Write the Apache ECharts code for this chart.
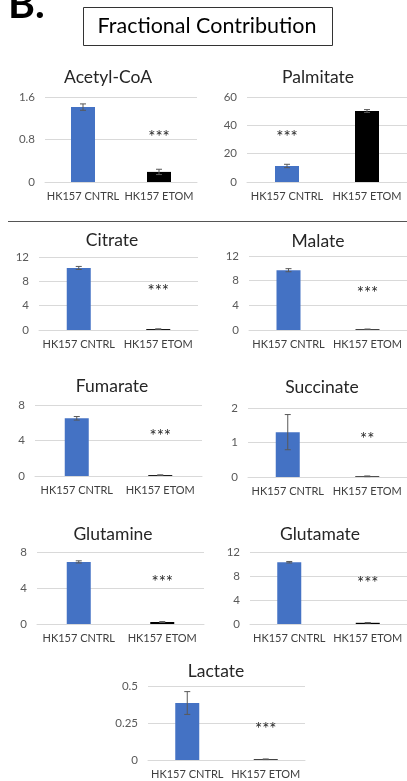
<!DOCTYPE html>
<html><head><meta charset="utf-8">
<script src="https://cdn.jsdelivr.net/npm/echarts@6/dist/echarts.min.js"></script>
<style>html,body{margin:0;padding:0;background:#fff}#c{width:407px;height:781px}</style>
</head><body><div id="c"></div>
<script>
const categories = ['HK157 CNTRL', 'HK157 ETOM'];
const titles = ['Acetyl-CoA','Palmitate','Citrate','Malate','Fumarate','Succinate','Glutamine','Glutamate','Lactate'];
const cntrlValues = [1.41, 11.3, 10.2, 9.7, 6.5, 1.30, 6.9, 10.3, 0.385];
const cntrlErrors = [0.06, 1.2, 0.25, 0.25, 0.2, 0.51, 0.12, 0.12, 0.077];
const etomValues  = [0.19, 50.1, 0.15, 0.12, 0.1, 0.02, 0.22, 0.2, 0.005];
const etomErrors  = [0.05, 1.0, 0.03, 0.03, 0.03, 0.01, 0.05, 0.04, 0.002];
const yMax = [1.6, 60, 12, 12, 8, 2, 8, 12, 0.5];
const yInterval = [0.8, 20, 4, 4, 4, 1, 4, 4, 0.25];
const sigText = ['***','***','***','***','***','**','***','***','***'];
const sigCategory = [1, 0, 1, 1, 1, 1, 1, 1, 1];
const sigValue = [0.94, 34.6, 7.1, 6.8, 4.96, 1.22, 5.2, 7.5, 0.243];

// layout (pixels): left, right edge, top, bottom
const gridBox = [
  [45,197,97,182],[247,407,97,182],
  [39,198,257,330],[249,407,256,330],
  [35,202,405,476],[248,407,408,477],
  [37,204,552,624],[250,407,552,624],
  [148,305,686,760]
];
const titlePos = [[108,77],[318,77],[112,240],[318,241],[112,386],[322,387],[113,534],[320,534],[216,671]];

const FONT = 'Lato, "Noto Sans", sans-serif';
const BLUE = '#4472C4';
const chart = echarts.init(document.getElementById('c'), null, {renderer:'canvas'});

const grids=[], xAxes=[], yAxes=[], series=[], gfx=[];
titles.forEach((t,i)=>{
  const g = gridBox[i];
  grids.push({left:g[0], width:g[1]-g[0], top:g[2], height:g[3]-g[2], containLabel:false});
  xAxes.push({type:'category', gridIndex:i, data:categories,
    axisLine:{show:true, lineStyle:{color:'#d9d9d9', width:1}}, axisTick:{show:false},
    axisLabel:{color:'#404040', fontSize:11, fontFamily:FONT, margin:9, interval:0}});
  yAxes.push({type:'value', gridIndex:i, min:0, max:yMax[i], interval:yInterval[i],
    axisLine:{show:false}, axisTick:{show:false},
    splitLine:{show:true, lineStyle:{color:'#d9d9d9', width:1}},
    axisLabel:{color:'#595959', fontSize:11.5, fontFamily:FONT, margin:10}});
  series.push({type:'bar', xAxisIndex:i, yAxisIndex:i, barWidth:24, z:2,
    data:[{value:cntrlValues[i], itemStyle:{color:BLUE}}, {value:etomValues[i], itemStyle:{color:'#000'}}]});
  series.push({type:'custom', xAxisIndex:i, yAxisIndex:i, z:5,
    data:[[categories[0], cntrlValues[i], cntrlErrors[i]], [categories[1], etomValues[i], etomErrors[i]]],
    renderItem:function(params, api){
      const x=api.value(0), y=api.value(1), e=api.value(2);
      const top=api.coord([x,y+e]), bot=api.coord([x,y-e]);
      const c=3, st={stroke:'#595959', lineWidth:1};
      return {type:'group', children:[
        {type:'line', shape:{x1:top[0],y1:top[1],x2:bot[0],y2:bot[1]}, style:st},
        {type:'line', shape:{x1:top[0]-c,y1:top[1],x2:top[0]+c,y2:top[1]}, style:st},
        {type:'line', shape:{x1:bot[0]-c,y1:bot[1],x2:bot[0]+c,y2:bot[1]}, style:st}
      ]};
    }});
  series.push({type:'custom', xAxisIndex:i, yAxisIndex:i, z:6,
    data:[[categories[sigCategory[i]], sigValue[i]]],
    renderItem:(function(txt){ return function(params, api){
      const p=api.coord([api.value(0), api.value(1)]);
      return {type:'text', style:{text:txt, x:p[0], y:p[1]+5, align:'center', verticalAlign:'middle',
        font:'17px '+FONT, fill:'#262626'}};
    };})(sigText[i])});
  gfx.push({type:'text', style:{text:t, x:titlePos[i][0], y:titlePos[i][1], align:'center', verticalAlign:'middle', font:'17.5px '+FONT, fill:'#262626'}});
});

gfx.push({type:'text', style:{text:'B.', x:8, y:5, align:'left', verticalAlign:'middle', font:'bold 41px '+FONT, fill:'#000'}});
gfx.push({type:'rect', shape:{x:83.5, y:7.5, width:249, height:38}, style:{fill:'none', stroke:'#333', lineWidth:1}});
gfx.push({type:'text', style:{text:'Fractional Contribution', x:207, y:26.5, align:'center', verticalAlign:'middle', font:'21.5px '+FONT, fill:'#000'}});
gfx.push({type:'line', shape:{x1:8, y1:221.5, x2:407, y2:221.5}, style:{stroke:'#555', lineWidth:1}});

chart.setOption({animation:false, grid:grids, xAxis:xAxes, yAxis:yAxes, series:series, graphic:gfx});
</script></body></html>
